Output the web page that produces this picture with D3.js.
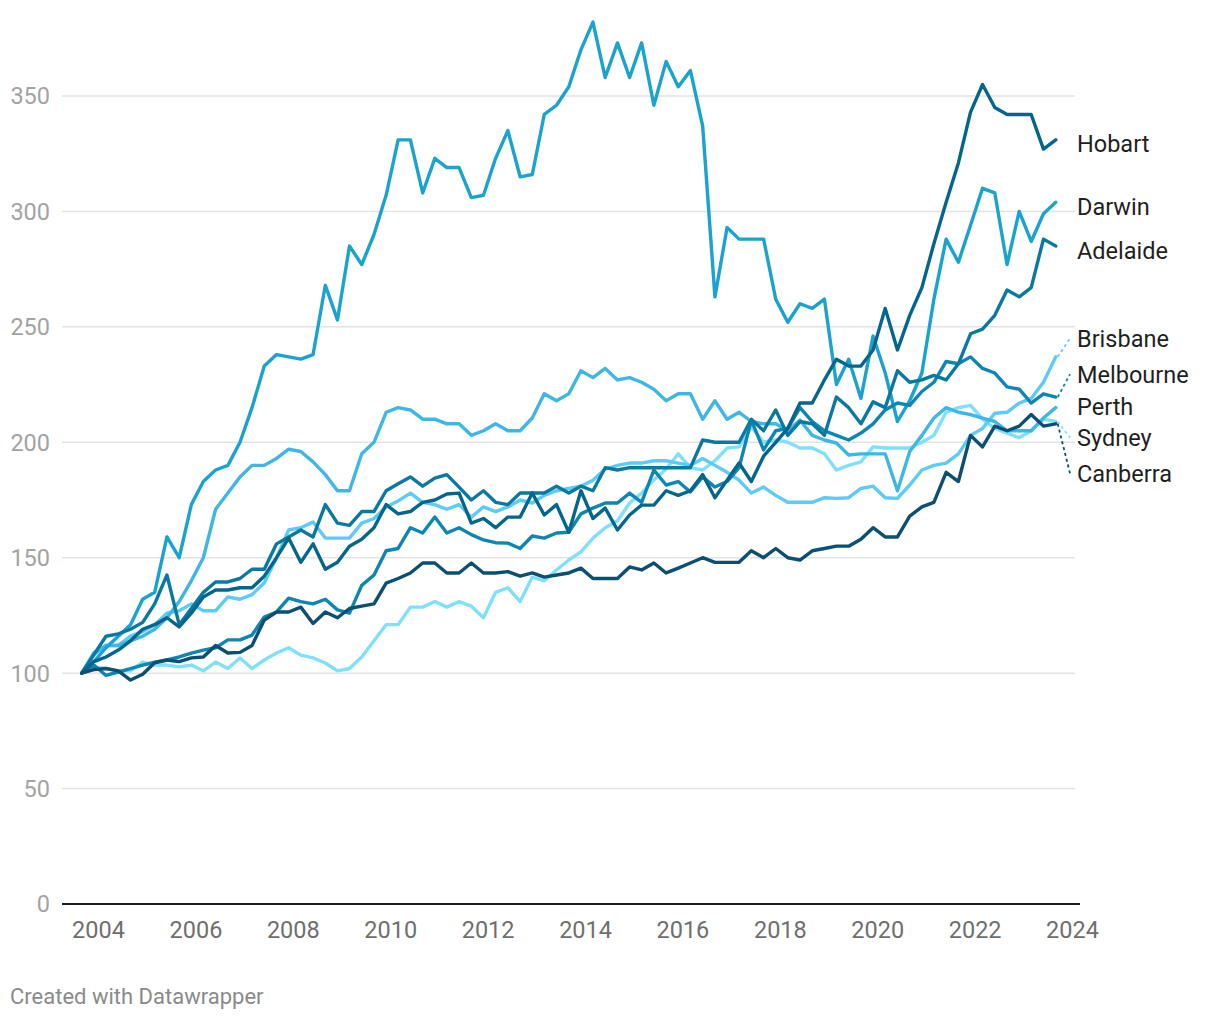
<!DOCTYPE html>
<html>
<head>
<meta charset="utf-8">
<script src="https://cdn.jsdelivr.net/npm/d3@7"></script>
<style>
  html, body { margin: 0; padding: 0; background: #fff; }
  svg { display: block; font-family: Roboto, "Noto Sans", sans-serif; }
</style>
</head>
<body>
<svg id="chart" width="1220" height="1020"></svg>
<script>
// ---- DATA (quarterly, Sep 2003 .. Sep 2023) ----
const startYear = 2003, startMonth = 8; // Sep 2003
const nQuarters = 81;
const yTicks = [0, 50, 100, 150, 200, 250, 300, 350];
const xTickYears = [2004, 2006, 2008, 2010, 2012, 2014, 2016, 2018, 2020, 2022, 2024];

const cities = ["Hobart", "Darwin", "Adelaide", "Brisbane", "Melbourne", "Perth", "Sydney", "Canberra"];

const darwin = [100,105,111,116,121,132,135,159,150,173,183,188,190,200,215,233,238,237,236,238,268,253,285,277,290,307,331,331,308,323,319,319,306,307,323,335,315,316,342,346,354,370,382,358,373,358,373,346,365,354,361,337,263,293,288,288,288,262,252,260,258,262,225,236,219,246,230,209,218,230,262,288,278,294,310,308,277,300,287,299,304];
const perth = [100,108,112,112,114,116,119,124,131,140,150,171,178,185,190,190,193,197,196,191.5,186,179,179,195,200,213,215,214,210,210,208,208,203,205,208,205,205,210.5,221,218,221,231,228,232,227,228,226,223,218,221,221,210,218,210,213,209,208,208,205,209.6,203,201,199.7,194.5,195,195,195,179,196,203,210.5,215,213,212,210.5,209,205,205,205,210.5,215];
const brisbane = [100,109,112,112,116,118,121,126,127,130,127,127,133,132,134,139,150,162,163,165.5,158.5,158.5,158.5,165,167,172,174.6,178,174,173,171,173,167.6,172,170,172,175,173.7,177,179,180,181,183.6,188.4,190,191,191,192,192,191,190,193,190,187,183.6,178,180.6,177,174,174,174,176,175.7,176,180,181,176,175.7,181.5,188,190,191,195,203,206,212.6,213,217,219,226,237];
const melbourne = [100,103.5,99,100.5,102,103.5,104.8,105.7,107,108.7,110,111,114.4,114.4,116.5,124.3,126.5,132.5,131,130,132,127.4,126,138,142.5,153,154,163,160.7,167.6,160.7,163,160,157.7,156.5,156.3,154,159.4,158.5,160.7,161,169,171.5,173.7,173.7,178,174,188,181.5,183,178.5,185,180.6,183,189,209.6,196.7,205,206,215,209,205,203,201,204,208,214,217,216,222,226,235,234,237,232,230,224,223,217,221,219.6];
const adelaide = [100,108,116,117,119,122,130,142.5,121,128,135,139.5,139.5,141,145,145,156,159,162,159,173,165,164,170,170,179,182,185,181,184.5,186,180.6,175,179,174,173,178,178,178,181,178,181,179,189,188,189,189,189,189,189,189,201,200,200,200,210,205,214,203,209,208,203,219.6,215,208,217.5,215,231,226,227,229,227,234,247,249,255,266,263,267,288,285];
const hobart = [100,105,107,110,114,119,121,124,120,126,133,136,136,137,137,142,150,158.5,148,156,145,148,155,158,163,173,169,170,174,175,177.6,178,165,167,163,167.6,167.6,178,168.5,173,161,179,167,171.5,162,168.5,172.8,172.8,179,177,179,186,176,183.6,191,183,194,200,206,217,217,227,236,233,233,240,258,240,255,267,286,304,321,343,355,345,342,342,342,327,331];
const sydney = [100,102.7,102,101,101,104.8,103.5,103.5,102.7,103.5,101,104.8,102,106.6,102,105.7,108.7,111,107.8,106.6,104.4,101,102,107,114,121,121,128.6,128.6,131,128.6,131,129,124,135,137,131,141.6,140,144.7,149,152.5,158.5,163,166,173.7,178,183.7,188.4,195,189,188,192,197.5,198,206.6,200,201,200,197.5,197.5,195,188,190,191.5,198,197.5,197.5,197.5,200,203,213,215,216,210,206,204,202,205,210,209];
const canberra = [100,101.5,102,101,97,99.5,104.5,105.7,105,106.6,107,112,108.7,109,112,123,126.5,126.5,128.6,121.5,126.5,124,128,129,130,139,141,143.4,147.7,147.7,143.4,143.4,147.7,143.4,143.4,144,142,143.4,141.6,142.5,143.4,145.5,141,141,141,146,144.7,147.7,143.4,145.5,147.7,150,148,148,148,153,150,154,150,149,153,154,155,155,158,163,159,159,168,172,174,187,183,203,198,207,205,207,212,207,208];

const seriesValues = {
  Hobart: hobart, Darwin: darwin, Adelaide: adelaide, Brisbane: brisbane,
  Melbourne: melbourne, Perth: perth, Sydney: sydney, Canberra: canberra
};

// ---- STYLE / LAYOUT ----
const colors = {
  Canberra: "#0b4f72", Hobart: "#05668d", Adelaide: "#0a79a2", Melbourne: "#0e86b1",
  Darwin: "#1ba3d0", Perth: "#3fb7e5", Brisbane: "#5ccbf5", Sydney: "#7fe0fb"
};
// label anchor in value space (de-overlapped label positions)
const labelAt = {
  Hobart: 329.5, Darwin: 302, Adelaide: 283, Brisbane: 245,
  Melbourne: 229.5, Perth: 215.5, Sydney: 202, Canberra: 186.5
};
const drawOrder = ["Sydney", "Brisbane", "Perth", "Darwin", "Melbourne", "Adelaide", "Hobart", "Canberra"];

const svg = d3.select("#chart");
const dates = d3.range(nQuarters).map(i => new Date(startYear, startMonth + 3 * i, 1));

const x = d3.scaleTime()
  .domain([new Date(2004, 0, 1), new Date(2024, 0, 1)])
  .range([98, 1072]);
const y = d3.scaleLinear().domain([0, 350]).range([904, 96]);

const gridLeft = 62, gridRight = 1075;

// gridlines
svg.append("g").selectAll("line")
  .data(yTicks.filter(d => d > 0))
  .join("line")
  .attr("x1", gridLeft).attr("x2", gridRight)
  .attr("y1", d => y(d)).attr("y2", d => y(d))
  .attr("stroke", "#e3e3e3").attr("stroke-width", 1.5);

// y labels
svg.append("g").selectAll("text")
  .data(yTicks)
  .join("text")
  .attr("x", 50).attr("y", d => y(d))
  .attr("dy", "0.36em")
  .attr("text-anchor", "end")
  .attr("fill", "#a3a3a3")
  .style("font-size", "23.5px")
  .text(d => d);

// x axis
const xAxis = d3.axisBottom(x)
  .tickValues(xTickYears.map(yv => new Date(yv, 0, 1)))
  .tickFormat(d3.timeFormat("%Y"))
  .tickSize(0).tickPadding(17);
const gx = svg.append("g").attr("transform", `translate(0,${y(0)})`).call(xAxis);
gx.select(".domain").remove();
gx.selectAll("text")
  .attr("fill", "#6f6f6f")
  .style("font-size", "23.5px")
  .style("font-family", "Roboto, sans-serif");

// lines
const line = d3.line()
  .x((d, i) => x(dates[i]))
  .y(d => y(d));

svg.append("g").selectAll("path")
  .data(drawOrder)
  .join("path")
  .attr("d", c => line(seriesValues[c]))
  .attr("fill", "none")
  .attr("stroke", c => colors[c])
  .attr("stroke-width", 3.4)
  .attr("stroke-linejoin", "round")
  .attr("stroke-linecap", "round");

// baseline
svg.append("line")
  .attr("x1", gridLeft).attr("x2", 1080)
  .attr("y1", y(0)).attr("y2", y(0))
  .attr("stroke", "#1d1d1d").attr("stroke-width", 2);

// labels + leader lines
const lastX = x(dates[nQuarters - 1]);
const labelX = 1077;
cities.forEach(c => {
  const vals = seriesValues[c];
  const endV = vals[vals.length - 1];
  const ly = y(labelAt[c]);
  if (Math.abs(y(endV) - ly) > 6) {
    svg.append("line")
      .attr("x1", lastX + 2).attr("y1", y(endV))
      .attr("x2", labelX - 7).attr("y2", ly)
      .attr("stroke", colors[c]).attr("stroke-width", 1.8)
      .attr("stroke-dasharray", "3,3");
  }
  svg.append("text")
    .attr("x", labelX).attr("y", ly)
    .attr("dy", "0.36em")
    .attr("fill", "#1f1f1f")
    .style("font-size", "23.5px")
    .text(c);
});

// footer
svg.append("text")
  .attr("x", 10).attr("y", 1004)
  .attr("fill", "#8a8a8a")
  .style("font-size", "22px")
  .text("Created with Datawrapper");
</script>
</body>
</html>
